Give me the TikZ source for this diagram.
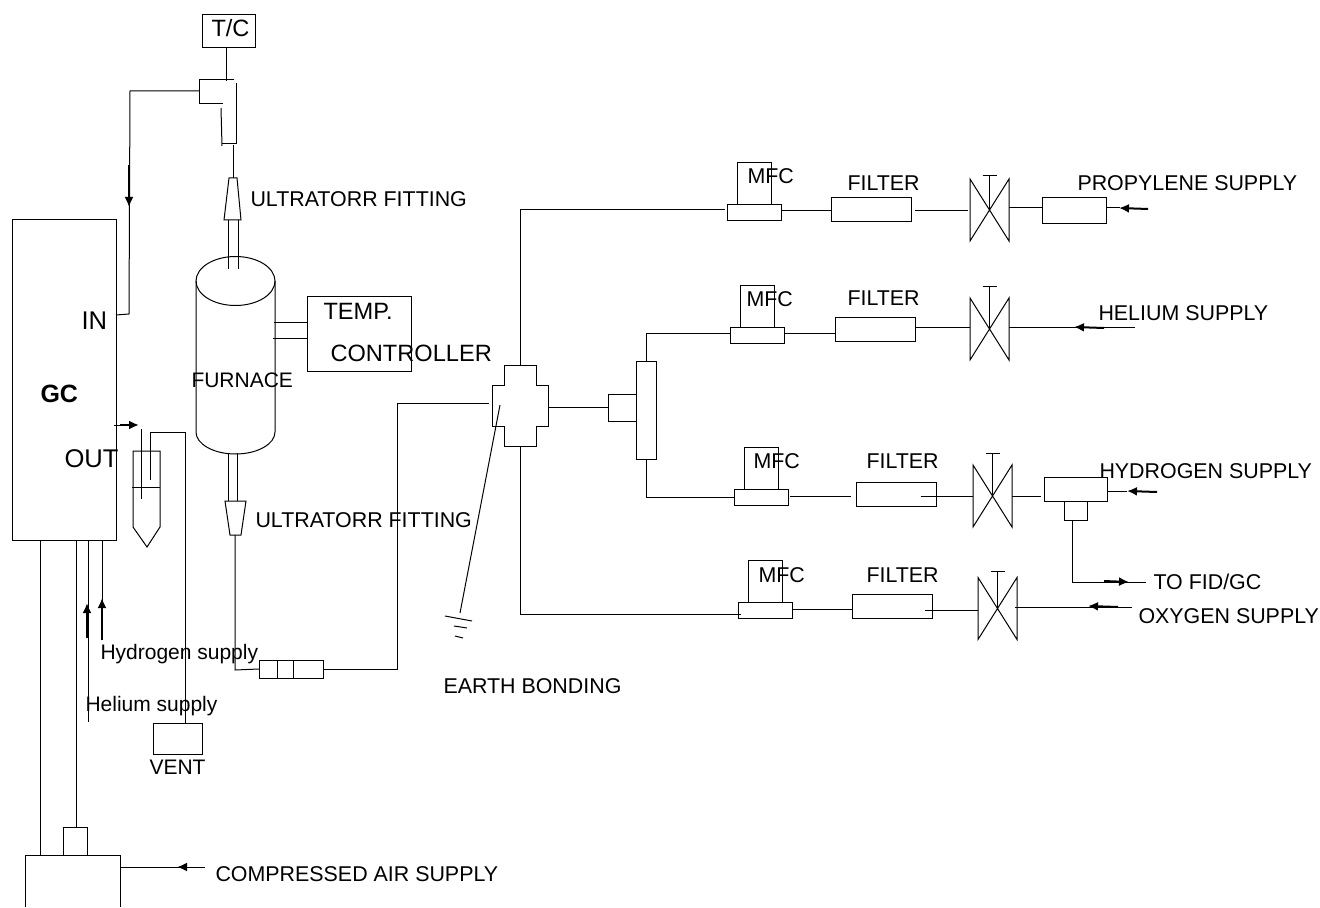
\documentclass[tikz,border=0pt]{standalone}
\usepackage{fontspec}
\setmainfont{Liberation Sans}
\usetikzlibrary{arrows.meta, positioning, shapes.geometric}

\begin{document}
\begin{tikzpicture}[
    x=0.5pt,
    y=-0.5pt,
    line width=0.5pt,
    unit/.style 2 args={
        rectangle,
        draw=black,
        outer sep=0pt,
        inner sep=0pt,
        minimum width=#1*0.5pt,
        minimum height=#2*0.5pt
    },
    frame/.style 2 args={
        unit={#1}{#2},
        draw=none
    },
    mfcbase/.style={unit={54}{16}},
    mfcbody/.style={unit={34}{42}},
    filterbox/.style={unit={80}{24}},
    valve/.style={frame={39}{62}},
    lbl/.style={anchor=base west, inner sep=0pt, font=\fontsize{10.7}{12}\selectfont},
    smalllbl/.style={lbl, font=\fontsize{10.5}{12}\selectfont},
    biglbl/.style={lbl, font=\fontsize{11.8}{14}\selectfont},
    hugelbl/.style={lbl, font=\fontsize{12.8}{14}\selectfont},
    flow/.style={-{Latex[length=5pt,width=4.5pt]}, line width=1pt}
]
\useasboundingbox (0,0) rectangle (1320,908);

\node[unit={53}{33}] (tc) at (228.5,31.5) {};
\node[unit={104}{320}] (gc) at (64,380) {};
\node[unit={104}{75}] (tempctrl) at (359,334.5) {};
\node[frame={79}{151}] (furnace) at (235.5,356.5) {};
\node[frame={95}{52}] (airbox) at (72.5,881) {};
\node[unit={24}{28}] (regulator) at (75,841) {};
\node[unit={49}{31}] (vent) at (177.5,738.5) {};
\node[unit={64}{18}] (union) at (291,669) {};
\node[frame={56}{80}] (cross) at (520,406) {};
\node[unit={28}{26}] (tee) at (622,408) {};
\node[unit={20}{97}] (manifold) at (646,410.5) {};

\node[mfcbase] (mfcbaseA) at (754.5,213) {};
\node[mfcbody, above=0pt of mfcbaseA.north] (mfcA) {};
\node[filterbox] (filterA) at (871,210) {};
\node[valve] (valveA) at (989.5,210) {};
\node[unit={64}{26}] (propbox) at (1074,211) {};

\node[mfcbase] (mfcbaseB) at (757,336) {};
\node[mfcbody, above=0pt of mfcbaseB.north] (mfcB) {};
\node[filterbox] (filterB) at (875,330) {};
\node[valve] (valveB) at (989.5,329) {};

\node[mfcbase] (mfcbaseC) at (761,497.5) {};
\node[mfcbody, above=0pt of mfcbaseC.north] (mfcC) {};
\node[filterbox] (filterC) at (896.5,494) {};
\node[valve] (valveC) at (992.5,496) {};
\node[unit={63}{24}] (hydbox) at (1075.5,489) {};
\node[unit={23}{19}, below=0pt of hydbox.south] (hydstub) {};

\node[mfcbase] (mfcbaseD) at (765,610) {};
\node[mfcbody, above=0pt of mfcbaseD.north] (mfcD) {};
\node[filterbox] (filterD) at (892,606.5) {};
\node[valve] (valveD) at (997.5,608.5) {};

\coordinate (elbowin) at (199,91);
\coordinate (elbowtop) at (226,81);
\coordinate (elbowout) at (233,145);
\coordinate (fittop) at (233,178);
\coordinate (fitlow) at (235,535);
\coordinate (gcin) at (116,315);
\coordinate (gcout) at (114,425);
\coordinate (crossin) at (489,404);
\coordinate (earthtop) at (500,405);
\coordinate (earthend) at (460,613);
\coordinate (airin) at (205,867);
\coordinate (heliumin) at (1135,328);
\coordinate (oxygenin) at (1132,607);
\coordinate (fidout) at (1146,582);

\draw (furnace.north west) -- (furnace.south west) arc[start angle=180, end angle=360, x radius=19.75pt, y radius=11pt] -- (furnace.north east);
\node[draw, ellipse, inner sep=0pt, minimum width=39.5pt, minimum height=24.5pt] (furnacetop) at (furnace.north) {};

\draw (234,80) -- (199,80) -- (199,104) -- (223,104);
\draw (221,108) -- (222,146);
\draw (236,83) -- (236,144) -- (222,144);
\draw (229,178) -- (237,178) -- (241,220) -- (224,220) -- cycle;
\draw (228,220) -- (228,269);
\draw (238,220) -- (238,269);
\draw (228,453) -- (228,501);
\draw (237,453) -- (237,501);
\draw (225,501) -- (246,501) -- (241,535) -- (230,535) -- cycle;

\draw (504,366) -- (536,366) -- (536,386) -- (548,386) -- (548,426) -- (536,426) -- (536,446) -- (504,446) -- (504,426) -- (492,426) -- (492,386) -- (504,386) -- cycle;

\draw (133,451) -- (160,451) -- (160,527) -- (147,547) -- (133,527) -- cycle;
\draw (132,487) -- (160,487);
\draw (141,429) -- (141,499);

\draw (445,616) -- (472,621);
\draw (454,626) -- (467,628);
\draw (455,636) -- (463,638);

\draw (airbox.south west) -- (airbox.north west) -- (airbox.north east) -- (airbox.south east);
\draw ([xshift=9pt]union.north west) -- ([xshift=9pt]union.south west);
\draw ([xshift=17pt]union.north west) -- ([xshift=17pt]union.south west);

\foreach \v/\h in {valveA/34, valveB/42, valveC/43, valveD/37} {
    \draw (\v.north west) -- (\v.south east) -- (\v.north east) -- (\v.south west) -- cycle;
    \draw (\v.center) -- ++(0,-\h) ++(-7,0) -- ++(14,0);
}

\draw (tc.south -| elbowtop) -- (elbowtop);
\draw (elbowout) -- (fittop);
\draw (elbowin) -- ++(-69,0) -- ++(-1,223) -- (gcin);
\draw ([yshift=5.75pt]tempctrl.west) -- ++(-33,0);
\draw ([yshift=-2.25pt]tempctrl.west) -- ++(-34,0);

\draw (fitlow) -- ++(0,135) -- (union.west);
\draw (union.east) -- ++(74,0) |- (crossin);
\draw (earthtop) -- (earthend);
\draw (cross.east |- tee.west) -- (tee.west);

\draw ([xshift=3.75pt]vent.north) -- ++(0,-291) -- ++(-35,0) -- ++(0,48);
\draw (gcout) -- ++(8,0);
\draw ([xshift=14pt]gc.south west) -- ([xshift=7.5pt]airbox.north west);
\draw ([xshift=32pt]gc.south west) -- ([xshift=0.5pt]regulator.north);
\draw ([xshift=38pt]gc.south west) -- ++(0,182);
\draw ([xshift=45pt]gc.south west) -- ++(0,100);
\draw ([yshift=7pt]airbox.east) -- (airin);

\draw (cross.north) |- ([xshift=-1.5pt,yshift=1.5pt]mfcbaseA.west);
\draw (manifold.north) |- ([yshift=1pt]mfcbaseB.west);
\draw (manifold.south) |- (mfcbaseC.west);
\draw (cross.south) |- ([xshift=1.5pt,yshift=-2pt]mfcbaseD.west);

\draw ([yshift=1pt]mfcbaseA.east) -- ([yshift=-0.5pt]filterA.west);
\draw ([xshift=2pt,yshift=-0.5pt]filterA.east) -- ([xshift=-1pt,yshift=-0.5pt]valveA.west);
\draw ([yshift=1pt]valveA.east) -- ([yshift=1.5pt]propbox.west);
\draw ([yshift=1.5pt]propbox.east) -- ++(14,0);

\draw ([yshift=1pt]mfcbaseB.east) -- ([yshift=-2pt]filterB.west);
\draw ([yshift=1pt]filterB.east) -- ([yshift=0.5pt]valveB.west);
\draw ([yshift=0.5pt]valveB.east) -- (heliumin);

\draw ([xshift=1pt,yshift=0.75pt]mfcbaseC.east) -- ([xshift=-3pt,yshift=-1pt]filterC.west);
\draw ([xshift=-8pt,yshift=-1pt]filterC.east) -- ([yshift=0pt]valveC.west);
\draw (valveC.east) -- ([xshift=-1.5pt,yshift=-3.5pt]hydbox.west);
\draw ([yshift=-1pt]hydbox.east) -- ++(20,0);
\draw ([xshift=-1.75pt]hydstub.south) -- ++(0,62) -- (fidout);

\draw ([yshift=0.5pt]mfcbaseD.east) -- ([yshift=-1.25pt]filterD.west);
\draw ([xshift=-3.5pt,yshift=-1.75pt]filterD.east) -- ([yshift=-0.75pt]valveD.west);
\draw ([xshift=-1pt,yshift=0.75pt]valveD.east) -- (oxygenin);

\draw[flow] (129,165) -- ++(0,42);
\draw[flow] (120,425) -- ++(19,0);
\draw[flow] (87,638) -- ++(0,-35);
\draw[flow] (102,640) -- ++(0,-42);
\draw[flow] (187,867) -- ++(-10,0);
\draw[flow] (1148,209) -- ++(-29,-1);
\draw[flow] (1104,328) -- ++(-30,-1);
\draw[flow] (1157,492) -- ++(-30,-1);
\draw[flow] (1104,581) -- ++(25,1);
\draw[flow] (1118,607) -- ++(-30,-1);

\node[biglbl] (tclabel) at (211,37) {T/C};
\node[lbl] (fittopl) at (250,207) {ULTRATORR FITTING};
\node[hugelbl] (inl) at (81,330) {IN};
\node[biglbl] (templ) at (323,320) {TEMP.};
\node[biglbl] (ctrll) at (330,362) {CONTROLLER};
\node[smalllbl] (furnacel) at (191,387) {FURNACE};
\node[hugelbl, font=\fontsize{12.5}{14}\selectfont\bfseries] (gcl) at (40,402) {GC};
\node[hugelbl] (outl) at (64,467) {OUT};
\node[lbl] (fitlowl) at (255,527) {ULTRATORR FITTING};
\node[smalllbl] (hydl) at (100,659) {Hydrogen supply};
\node[smalllbl] (hell) at (85,711) {Helium supply};
\node[smalllbl] (ventl) at (149,774) {VENT};
\node[lbl] (earthl) at (443,693) {EARTH BONDING};
\node[lbl] (airl) at (215,881) {COMPRESSED AIR SUPPLY};

\node[lbl] (mfclA) at (747,184) {MFC};
\node[lbl] (mfclB) at (746,307) {MFC};
\node[lbl] (mfclC) at (753,468) {MFC};
\node[lbl] (mfclD) at (758,582) {MFC};
\node[lbl] (filterlA) at (847,191) {FILTER};
\node[lbl] (filterlB) at (847,306) {FILTER};
\node[lbl] (filterlC) at (866,468) {FILTER};
\node[lbl] (filterlD) at (866,582) {FILTER};
\node[lbl] (propl) at (1077,191) {PROPYLENE SUPPLY};
\node[lbl] (hel) at (1098,321) {HELIUM SUPPLY};
\node[lbl] (h2l) at (1099,478) {HYDROGEN SUPPLY};
\node[lbl] (fidl) at (1153,589) {TO FID/GC};
\node[lbl] (o2l) at (1138,623) {OXYGEN SUPPLY};

\end{tikzpicture}
\end{document}
